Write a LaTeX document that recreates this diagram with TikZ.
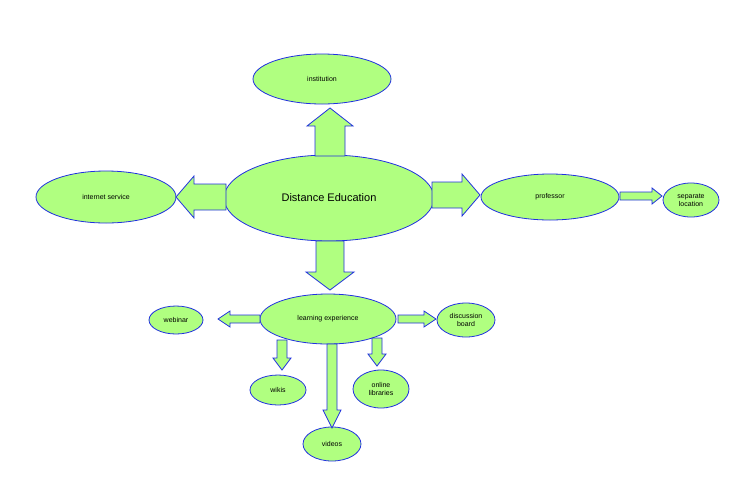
\documentclass[tikz,border=0pt]{standalone}
\usepackage{fontspec}
\setmainfont{Liberation Sans}
\usetikzlibrary{shapes.geometric}
\definecolor{fillg}{HTML}{B0FF80}
\definecolor{edgeb}{HTML}{2030E0}
\tikzset{
 bub/.style={ellipse,draw=edgeb,fill=fillg,line width=0.8pt,inner sep=0pt,font=\fontsize{7}{8}\selectfont,align=center},
 blk/.style={draw=edgeb,fill=fillg,line width=0.8pt,line join=miter}
}
\newcommand\harrow[6]{%
 \pgfmathsetmacro\hb{#2-(#6)*sign(#2-#1)}%
 \draw[blk] (#1,#3-#4/2) -- (\hb,#3-#4/2) -- (\hb,#3-#5/2) -- (#2,#3) -- (\hb,#3+#5/2) -- (\hb,#3+#4/2) -- (#1,#3+#4/2) -- cycle;}
\newcommand\varrow[6]{%
 \pgfmathsetmacro\vb{#2-(#6)*sign(#2-#1)}%
 \draw[blk] (#3-#4/2,#1) -- (#3-#4/2,\vb) -- (#3-#5/2,\vb) -- (#3,#2) -- (#3+#5/2,\vb) -- (#3+#4/2,\vb) -- (#3+#4/2,#1) -- cycle;}
\begin{document}
\begin{tikzpicture}[x=1pt,y=-1pt]
\useasboundingbox (0,0) rectangle (752,491);
\node[bub,minimum width=210pt,minimum height=86pt,font=\fontsize{11}{13}\selectfont] (de) at (329,198) {Distance Education};
\node[bub,minimum width=138pt,minimum height=50pt] (inst) at (322,79) {institution};
\node[bub,minimum width=140pt,minimum height=52pt] (inet) at (106,197) {internet service};
\node[bub,minimum width=138pt,minimum height=46pt] (prof) at (550,197) {professor};
\node[bub,minimum width=56pt,minimum height=34pt] (sep) at (691,200) {separate\\location};
\node[bub,minimum width=136pt,minimum height=50pt] (le) at (328,319) {learning experience};
\node[bub,minimum width=54pt,minimum height=28pt] (web) at (176,320) {webinar};
\node[bub,minimum width=58pt,minimum height=34pt] (disc) at (466,320) {discussion\\board};
\node[bub,minimum width=56pt,minimum height=30pt] (wik) at (278,390) {wikis};
\node[bub,minimum width=56pt,minimum height=38pt] (lib) at (381,389) {online\\libraries};
\node[bub,minimum width=58pt,minimum height=34pt] (vid) at (332,444) {videos};
% big arrows
\varrow{156}{108}{330}{30}{46}{18}
\harrow{226}{176}{197}{26}{42}{18}
\harrow{432}{480}{195}{26}{42}{18}
\varrow{241}{290}{330}{28}{48}{18}
% small arrows
\harrow{620}{662}{196}{8}{16}{10}
\harrow{260}{218}{319}{8}{16}{12}
\harrow{398}{436}{319}{8}{16}{12}
\varrow{340}{370}{282}{10}{18}{12}
\varrow{338}{366}{377}{10}{18}{12}
\varrow{344}{428}{332}{10}{18}{18}
\end{tikzpicture}
\end{document}
